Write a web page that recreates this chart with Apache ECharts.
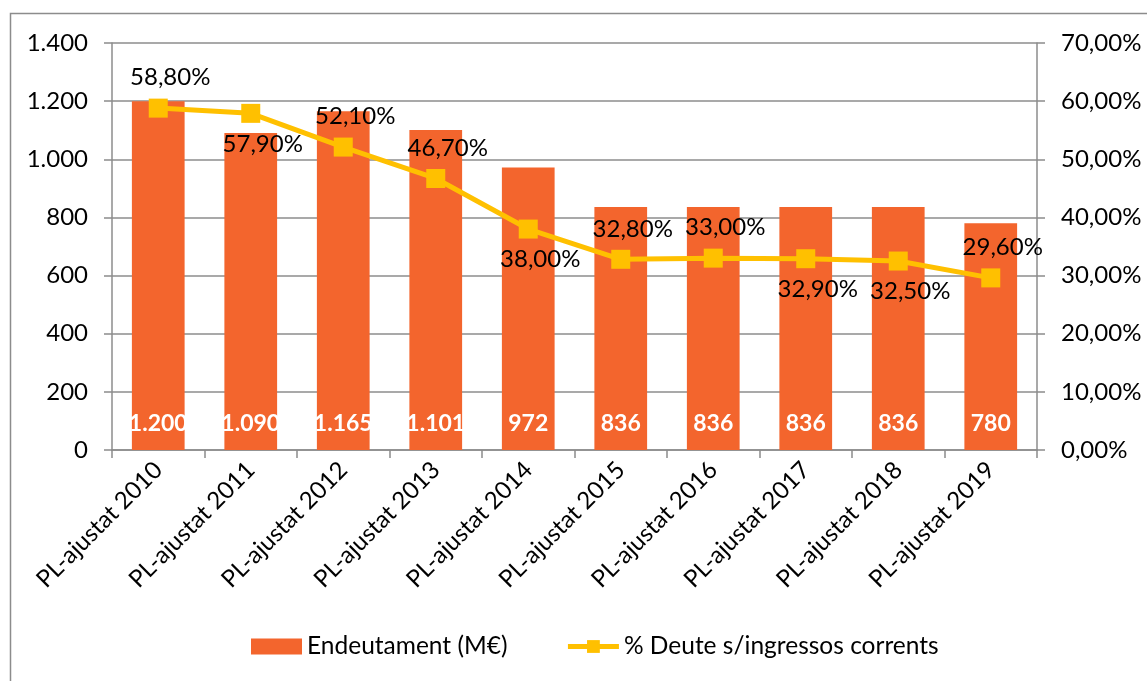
<!DOCTYPE html>
<html>
<head>
<meta charset="utf-8">
<script src="https://cdn.jsdelivr.net/npm/echarts@6/dist/echarts.min.js"></script>
<style>
html,body{margin:0;padding:0;background:#fff;}
#chart{width:1147px;height:681px;}
</style>
</head>
<body>
<div id="chart"></div>
<script>
const categories = ['PL-ajustat 2010','PL-ajustat 2011','PL-ajustat 2012','PL-ajustat 2013','PL-ajustat 2014','PL-ajustat 2015','PL-ajustat 2016','PL-ajustat 2017','PL-ajustat 2018','PL-ajustat 2019'];
const debt = [1200, 1090, 1165, 1101, 972, 836, 836, 836, 836, 780];
const debtPct = [58.8, 57.9, 52.1, 46.7, 38.0, 32.8, 33.0, 32.9, 32.5, 29.6];
const leftTicks = ['0','200','400','600','800','1.000','1.200','1.400'];
const seriesNames = ['Endeutament (M€)', '% Deute s/ingressos corrents'];

const FONT = 'Lato';
const belowIdx = [1, 4, 7, 8];
const fmtThousands = v => String(v).replace(/\B(?=(\d{3})+(?!\d))/g, '.');
const fmtPct = v => v.toFixed(2).replace('.', ',') + '%';

const chart = echarts.init(document.getElementById('chart'));
chart.setOption({
  animation: false,
  textStyle: { fontFamily: FONT },
  graphic: [{
    type: 'rect', shape: { x: 10.5, y: 13.5, width: 1200, height: 800 },
    style: { fill: 'none', stroke: '#8c8c8c', lineWidth: 1.5 }, silent: true, z: 0
  }],
  grid: { left: 112, right: 110, top: 43, bottom: 231 },
  legend: {
    bottom: 17, left: 246, itemGap: 58, itemWidth: 51, itemHeight: 16,
    textStyle: { fontFamily: FONT, fontSize: 24.5, color: '#000' },
    data: [
      { name: seriesNames[0], icon: 'rect' },
      { name: seriesNames[1], lineStyle: { width: 5, color: '#FFC000' } }
    ]
  },
  xAxis: {
    type: 'category', data: categories,
    axisLine: { lineStyle: { color: '#8c8c8c', width: 1.5 } },
    axisTick: { show: true, length: 8, lineStyle: { color: '#8c8c8c', width: 1.5 } },
    axisLabel: { rotate: 45, fontSize: 24, color: '#000', fontFamily: FONT, margin: 16, interval: 0 }
  },
  yAxis: [{
    type: 'value', min: 0, max: 1400, interval: 200,
    axisLine: { show: true, lineStyle: { color: '#8c8c8c', width: 1.5 } },
    axisTick: { show: true, length: 8, lineStyle: { color: '#8c8c8c', width: 1.5 } },
    splitLine: { lineStyle: { color: '#8c8c8c', width: 1.5 } },
    axisLabel: { fontSize: 24, color: '#000', fontFamily: FONT, margin: 24,
      formatter: (v) => leftTicks[Math.round(v / 200)] }
  }, {
    type: 'value', min: 0, max: 70, interval: 10, position: 'right',
    axisLine: { show: true, lineStyle: { color: '#8c8c8c', width: 1.5 } },
    axisTick: { show: true, length: 8, lineStyle: { color: '#8c8c8c', width: 1.5 } },
    splitLine: { show: false },
    axisLabel: { fontSize: 24, color: '#000', fontFamily: FONT, margin: 24,
      formatter: (v) => fmtPct(v) }
  }],
  series: [{
    name: seriesNames[0], type: 'bar', data: debt, barWidth: '57%',
    itemStyle: { color: '#F3652D' },
    label: { show: true, position: 'insideBottom', distance: 15, color: '#fff',
      fontWeight: 'bold', fontSize: 23, fontFamily: FONT,
      formatter: p => fmtThousands(p.value) },
    z: 2
  }, {
    name: seriesNames[1], type: 'line', yAxisIndex: 1,
    data: debtPct.map((v, i) => ({
      value: v,
      label: { position: belowIdx.includes(i) ? 'bottom' : 'top' }
    })),
    symbol: 'rect', symbolSize: 19,
    lineStyle: { color: '#FFC000', width: 5 },
    itemStyle: { color: '#FFC000' },
    label: { show: true, fontSize: 24, color: '#000', fontFamily: FONT, distance: 9, offset: [12, 0],
      formatter: p => fmtPct(p.value) },
    z: 3
  }]
});
</script>
</body>
</html>
